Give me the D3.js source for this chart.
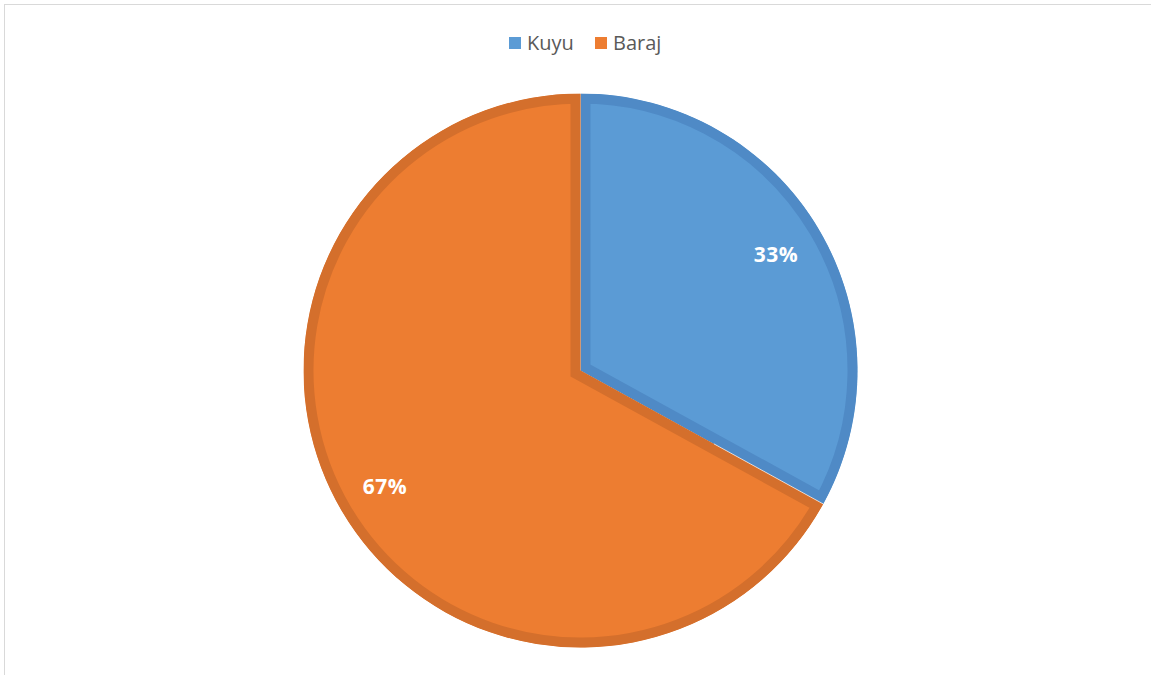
<!DOCTYPE html>
<html>
<head>
<meta charset="utf-8">
<script src="https://cdn.jsdelivr.net/npm/d3@7"></script>
<style>
  html, body { margin: 0; padding: 0; background: #fff; }
  svg { display: block; }
</style>
</head>
<body>
<svg id="chart" width="1151" height="675"></svg>
<script>
// Water source shares
const categories = ["Kuyu", "Baraj"];
const values = [33, 67];
const fillColors = ["#5B9BD5", "#ED7D31"];
const edgeColors = ["#4F8AC6", "#D46F2C"];

const width = 1151, height = 675;
const cx = 580.5, cy = 370.5, radius = 277;
const edge = 10;

const svg = d3.select("#chart");

// chart frame
svg.append("rect")
  .attr("x", 4.5).attr("y", 4.5)
  .attr("width", width + 10).attr("height", height + 10)
  .attr("fill", "#fff").attr("stroke", "#D9D9D9").attr("stroke-width", 1);

const data = categories.map((c, i) => ({ name: c, value: values[i], i }));
const pie = d3.pie().value(d => d.value).sort(null);
const arcs = pie(data);
const arc = d3.arc().innerRadius(0).outerRadius(radius);
const labelArc = d3.arc().innerRadius(radius * 0.82).outerRadius(radius * 0.82);

const defs = svg.append("defs");
const g = svg.append("g").attr("transform", `translate(${cx},${cy})`);

arcs.forEach((a, k) => {
  defs.append("clipPath").attr("id", "clip-slice-" + k)
    .append("path").attr("d", arc(a));
});

// slices with an inner darker edge (stroke clipped to the slice)
g.selectAll("path.slice")
  .data(arcs)
  .join("path")
  .attr("class", "slice")
  .attr("d", arc)
  .attr("fill", d => fillColors[d.data.i])
  .attr("stroke", d => edgeColors[d.data.i])
  .attr("stroke-width", edge * 2)
  .attr("stroke-linejoin", "miter")
  .attr("clip-path", (d, k) => `url(#clip-slice-${k})`);

// thin light separator at the end of the last slice boundary
const sepArc = arcs[0];
const sepAngle = sepArc.endAngle;
g.append("line")
  .attr("x1", Math.sin(sepAngle) * radius * 0.55)
  .attr("y1", -Math.cos(sepAngle) * radius * 0.55)
  .attr("x2", Math.sin(sepAngle) * radius)
  .attr("y2", -Math.cos(sepAngle) * radius)
  .attr("stroke", "#fff")
  .attr("stroke-width", 0.9)
  .attr("stroke-opacity", 0.75);

// percentage labels
const total = d3.sum(values);
g.selectAll("text.pct")
  .data(arcs)
  .join("text")
  .attr("class", "pct")
  .attr("transform", d => `translate(${labelArc.centroid(d)})`)
  .attr("text-anchor", "middle")
  .attr("dy", "0.36em")
  .attr("fill", "#fff")
  .attr("font-family", "'Open Sans', 'Liberation Sans', sans-serif")
  .attr("font-weight", "bold")
  .attr("font-size", 21)
  .attr("letter-spacing", 0.5)
  .text(d => Math.round(d.data.value / total * 100) + "%");

// legend
const legend = svg.append("g")
  .attr("font-family", "'Open Sans', 'Liberation Sans', sans-serif")
  .attr("font-size", 20)
  .attr("fill", "#595959");
const legendX = [509, 595];
categories.forEach((c, i) => {
  const item = legend.append("g").attr("transform", `translate(${legendX[i]},37)`);
  item.append("rect").attr("width", 12).attr("height", 12).attr("fill", fillColors[i]);
  item.append("text").attr("x", 18).attr("y", 13).text(c);
});
</script>
</body>
</html>
